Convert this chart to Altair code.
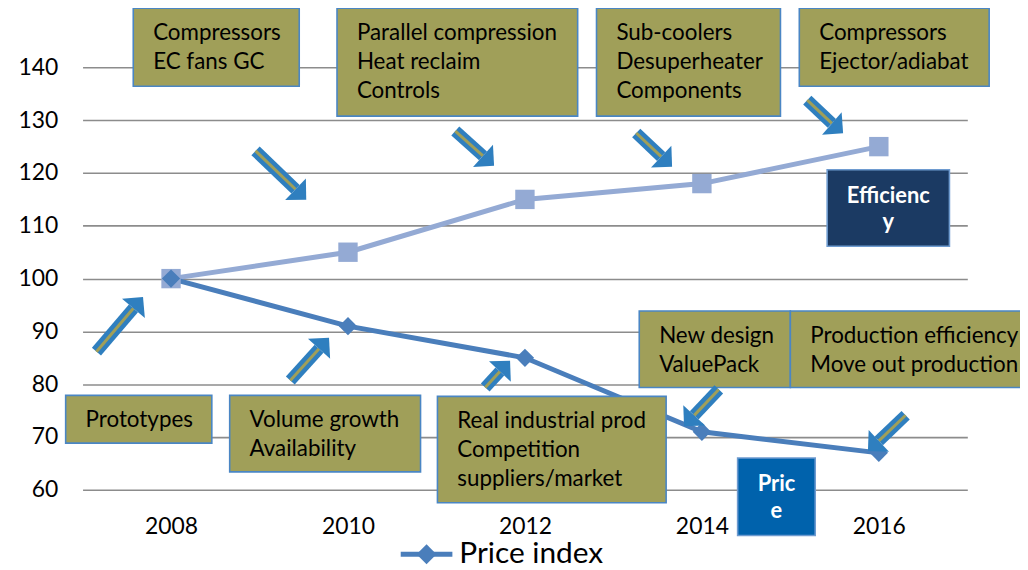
import altair as alt
import pandas as pd

# ---- series data ----
years = [2008, 2010, 2012, 2014, 2016]
efficiency = [100, 105, 115, 118, 125]
price_index = [100, 91, 85, 71, 67]

# ---- annotation boxes (in data units: year / index) ----
box_labels = [
    "Compressors\nEC fans GC",
    "Parallel compression\nHeat reclaim\nControls",
    "Sub-coolers\nDesuperheater\nComponents",
    "Compressors\nEjector/adiabat",
    "New design\nValuePack",
    "Production efficiency\nMove out production",
    "Prototypes",
    "Volume growth\nAvailability",
    "Real industrial prod\nCompetition\nsuppliers/market",
]
box_x0 = [2007.573, 2009.876, 2012.809, 2015.101, 2013.292, 2015.0, 2006.809, 2008.663, 2011.011]
box_x1 = [2009.449, 2012.596, 2014.888, 2017.247, 2015.0, 2017.70, 2008.461, 2010.820, 2013.596]
box_y0 = [136.42, 130.78, 130.78, 136.42, 79.39, 79.39, 68.85, 63.39, 57.55]
box_y1 = [151.2, 151.2, 151.2, 151.2, 93.88, 93.88, 77.88, 77.88, 77.69]

# ---- series name boxes ----
tag_labels = ["Efficienc\ny", "Pric\ne"]
tag_x0 = [2015.416, 2014.404]
tag_x1 = [2016.798, 2015.281]
tag_y0 = [106.12, 51.34]
tag_y1 = [120.61, 66.02]
tag_fill = ["#1B3A63", "#0062AC"]

# ---- arrows: tail, head base, direction (screen degrees) ----
arr_x = [2008.955, 2011.213, 2013.258, 2015.191, 2007.157, 2009.348, 2011.551, 2014.191, 2016.303]
arr_y = [124.19, 127.95, 127.58, 133.79, 86.16, 80.71, 79.39, 79.01, 74.12]
arr_x2 = [2009.407, 2011.526, 2013.540, 2015.469, 2007.575, 2009.673, 2011.717, 2013.913, 2016.0]
arr_y2 = [116.92, 123.25, 123.12, 129.40, 94.37, 86.71, 82.40, 74.10, 69.28]
arr_angle = [44, 42, 43, 41, 310, 312, 313, 133, 137]

FONT = "Lato"
OLIVE = "#A09F59"
BOX_BORDER = "#4A86C4"
ARROW_BLUE = "#2F7FBF"
PRICE_C = "#4A7EBB"
EFF_C = "#94AAD4"

series = pd.DataFrame({
    "year": years * 2,
    "value": efficiency + price_index,
    "series": ["Efficiency"] * 5 + ["Price index"] * 5,
})
boxes = pd.DataFrame({"label": box_labels, "x0": box_x0, "x1": box_x1, "y0": box_y0, "y1": box_y1})
tags = pd.DataFrame({"label": tag_labels, "x0": tag_x0, "x1": tag_x1, "y0": tag_y0, "y1": tag_y1, "fill": tag_fill})
arrows = pd.DataFrame({"x": arr_x, "y": arr_y, "x2": arr_x2, "y2": arr_y2, "angle": arr_angle})

xscale = alt.Scale(domain=[2007, 2017], nice=False, zero=False)
yscale = alt.Scale(domain=[60, 150], nice=False, zero=False)

X = alt.X("year:Q", scale=xscale,
          axis=alt.Axis(values=[2008, 2010, 2012, 2014, 2016], format="d", grid=False,
                        domain=False, ticks=False, labelPadding=26, title=None))
Y = alt.Y("value:Q", scale=yscale,
          axis=alt.Axis(values=[60, 70, 80, 90, 100, 110, 120, 130, 140], grid=True,
                        gridColor="#8C8C8C", gridWidth=1.6, domain=False, ticks=False,
                        labelPadding=25, title=None))

lines = alt.Chart(series).mark_line(strokeWidth=5).encode(
    x=X, y=Y,
    color=alt.Color("series:N", scale=alt.Scale(domain=["Efficiency", "Price index"], range=[EFF_C, PRICE_C]), legend=None),
    detail="series:N",
)
eff_pts = alt.Chart(series).transform_filter("datum.series == 'Efficiency'").mark_point(
    shape="square", filled=True, size=380, color=EFF_C, opacity=1).encode(x="year:Q", y="value:Q")
price_pts = alt.Chart(series).transform_filter("datum.series == 'Price index'").mark_point(
    shape="diamond", filled=True, size=340, color=PRICE_C, opacity=1).encode(x="year:Q", y="value:Q")

box_rect = alt.Chart(boxes).mark_rect(fill=OLIVE, stroke=BOX_BORDER, strokeWidth=1.6).encode(
    x="x0:Q", x2="x1:Q", y="y0:Q", y2="y1:Q")
box_text = alt.Chart(boxes).mark_text(
    align="left", baseline="middle", dx=20, dy=25, font=FONT, fontSize=22.5, lineHeight=29,
    lineBreak="\n", color="#000000").encode(x="x0:Q", y="y1:Q", text="label:N")

tag_rect = alt.Chart(tags).mark_rect(stroke="#6E9BD0", strokeWidth=1.6).encode(
    x="x0:Q", x2="x1:Q", y="y0:Q", y2="y1:Q", fill=alt.Fill("fill:N", scale=None))
tag_text = alt.Chart(tags).transform_calculate(
    xc="(datum.x0 + datum.x1) / 2").mark_text(
    align="center", baseline="middle", dy=26, font=FONT, fontSize=22, fontWeight="bold", lineHeight=27,
    lineBreak="\n", color="white").encode(x="xc:Q", y="y1:Q", text="label:N")

arrow_shaft = alt.Chart(arrows).mark_rule(strokeWidth=12, color=ARROW_BLUE, strokeCap="butt").encode(
    x="x:Q", y="y:Q", x2="x2:Q", y2="y2:Q")
arrow_core = alt.Chart(arrows).mark_rule(strokeWidth=3, color=OLIVE, strokeCap="butt").encode(
    x="x:Q", y="y:Q", x2="x2:Q", y2="y2:Q")
arrow_head = alt.Chart(arrows).mark_point(
    shape="M0,-1L1,0L0,1Z", filled=True, size=900, color=ARROW_BLUE, opacity=1).encode(
    x="x2:Q", y="y2:Q", angle=alt.Angle("angle:Q", scale=None))

# legend (manual, below chart)
legend_df = pd.DataFrame({"x": [2010.596], "x2": [2011.18], "xm": [2010.888], "xt": [2011.258],
                          "y": [47.8], "label": ["Price index"]})
leg_line = alt.Chart(legend_df).mark_rule(strokeWidth=5, color=PRICE_C).encode(x="x:Q", x2="x2:Q", y="y:Q")
leg_pt = alt.Chart(legend_df).mark_point(shape="diamond", filled=True, size=400, color=PRICE_C, opacity=1).encode(
    x="xm:Q", y="y:Q")
leg_text = alt.Chart(legend_df).mark_text(align="left", baseline="middle", font=FONT, fontSize=30,
                                          color="#000000").encode(x="xt:Q", y="y:Q", text="label:N")

chart = alt.layer(
    lines, eff_pts, price_pts, box_rect, box_text, tag_rect, tag_text,
    arrow_shaft, arrow_core, arrow_head, leg_line, leg_pt, leg_text,
).properties(
    width=890, height=478,
    padding={"left": 75, "top": 5, "right": 53, "bottom": 78},
    autosize=alt.AutoSizeParams(type="none"),
).configure_view(stroke=None).configure_axis(
    labelFont=FONT, labelFontSize=23, labelColor="#000000"
)

chart.save("out.html", embed_options={"renderer": "svg", "actions": False})
